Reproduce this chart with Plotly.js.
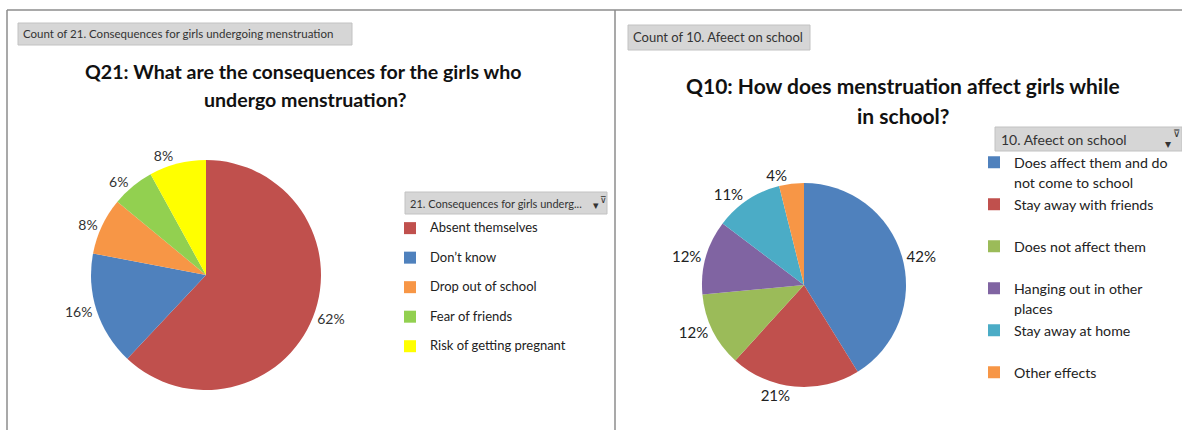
<!DOCTYPE html>
<html><head><meta charset="utf-8">
<script src="https://cdn.plot.ly/plotly-3.0.1.min.js"></script>
<style>html,body{margin:0;padding:0;background:#fff;overflow:hidden}</style>
</head><body><div id="chart" style="width:1182px;height:430px"></div>
<script>
// ---- data ----
const q21Labels = ["Absent themselves", "Don’t know", "Drop out of school", "Fear of friends", "Risk of getting pregnant"];
const q21Values = [62, 16, 8, 6, 8];
const q21Colors = ["#C0504D", "#4F81BD", "#F79646", "#92D050", "#FFFF00"];

const q10Labels = ["Does affect them and do not come to school", "Stay away with friends", "Does not affect them", "Hanging out in other places", "Stay away at home", "Other effects"];
const q10LegendLines = [["Does affect them and do", "not come to school"], ["Stay away with friends"], ["Does not affect them"], ["Hanging out in other", "places"], ["Stay away at home"], ["Other effects"]];
const q10Values = [42, 21, 12, 12, 11, 4];
const q10Colors = ["#4F81BD", "#C0504D", "#9BBB59", "#8064A2", "#4BACC6", "#F79646"];

const q21Title = ["Q21: What are the consequences for the girls who", "undergo menstruation?"];
const q10Title = ["Q10: How does menstruation affect girls while", "in school?"];
const q21Field = "Count of 21. Consequences for girls undergoing menstruation";
const q10Field = "Count of 10. Afeect on school";
const q21LegendHead = "21. Consequences for girls underg...";
const q10LegendHead = "10. Afeect on school";

// ---- helpers ----
const W = 1182, H = 430;
const px = x => x / W;
const py = y => 1 - y / H;
const FONT = "Lato, 'Open Sans', sans-serif";

// legend labels: two text lines per entry (second may be blank) so rows get the reference spacing
const q21Legend = q21Labels.map(l => "<span style='font-size:13px'>" + l + "</span><br>&nbsp;");
const q10Legend = q10LegendLines.map(ls => ls.map(s => "<span style='font-size:14.2px'>" + s + "</span>").join("<br>") + (ls.length === 1 ? "<br>&nbsp;" : ""));

const traces = [
  {
    type: "pie", labels: q21Legend, values: q21Values, sort: false, direction: "clockwise", rotation: 0,
    marker: {colors: q21Colors, line: {width: 0}},
    textposition: "outside", texttemplate: "%{value}%",
    textfont: {family: FONT, size: 14, color: "#333"},
    domain: {x: [px(91), px(321)], y: [py(390), py(160)]},
    legend: "legend", hoverinfo: "none"
  },
  {
    type: "pie", labels: q10Legend, values: q10Values, sort: false, direction: "clockwise", rotation: 0,
    marker: {colors: q10Colors, line: {width: 0}},
    textposition: "outside", texttemplate: "%{value}%",
    textfont: {family: FONT, size: 15, color: "#222"},
    domain: {x: [px(702), px(906)], y: [py(387), py(183)]},
    legend: "legend2", hoverinfo: "none"
  }
];

const grey = "#8c8c8c";
const shapes = [
  {type: "line", xref: "paper", yref: "paper", x0: px(7), x1: px(1182), y0: py(10), y1: py(10), line: {color: grey, width: 1.5}},
  {type: "line", xref: "paper", yref: "paper", x0: px(7), x1: px(7), y0: py(10), y1: py(430), line: {color: grey, width: 1.5}},
  {type: "line", xref: "paper", yref: "paper", x0: px(615), x1: px(615), y0: py(10), y1: py(430), line: {color: grey, width: 1.5}},
  // field buttons
  {type: "rect", xref: "paper", yref: "paper", x0: px(18), x1: px(352), y0: py(45), y1: py(23), fillcolor: "#d6d6d6", line: {color: "#c2c2c2", width: 1}},
  {type: "rect", xref: "paper", yref: "paper", x0: px(628), x1: px(810), y0: py(50), y1: py(25), fillcolor: "#d6d6d6", line: {color: "#c2c2c2", width: 1}},
  {type: "rect", xref: "paper", yref: "paper", x0: px(405), x1: px(607), y0: py(214), y1: py(192), fillcolor: "#d6d6d6", line: {color: "#c2c2c2", width: 1}},
  {type: "rect", xref: "paper", yref: "paper", x0: px(995), x1: px(1182), y0: py(151), y1: py(127), fillcolor: "#d6d6d6", line: {color: "#c2c2c2", width: 1}}
];

function ann(text, x, y, size, opts) {
  return Object.assign({xref: "paper", yref: "paper", x: px(x), y: py(y), text: text, showarrow: false,
    xanchor: "left", yanchor: "middle", font: {family: FONT, size: size, color: "#333"}}, opts || {});
}
const annotations = [
  ann(q21Field, 21, 34, 11.5),
  ann(q10Field, 631, 37, 13),
  ann(q21LegendHead, 408, 203, 11),
  ann("▾", 591, 205, 11),
  ann("⊽", 598, 199, 9),
  ann(q10LegendHead, 999, 139, 14),
  ann("▾", 1163, 143, 12),
  ann("⊽", 1171, 133, 10),
  ann("<b>" + q21Title[0] + "</b>", 304, 72, 19.6, {xanchor: "center", font: {family: FONT, size: 19.6, color: "#111"}}),
  ann("<b>" + q21Title[1] + "</b>", 305, 100, 19.6, {xanchor: "center", font: {family: FONT, size: 19.6, color: "#111"}}),
  ann("<b>" + q10Title[0] + "</b>", 903, 85, 21, {xanchor: "center", font: {family: FONT, size: 21, color: "#111"}}),
  ann("<b>" + q10Title[1] + "</b>", 903, 115, 21, {xanchor: "center", font: {family: FONT, size: 21, color: "#111"}})
];

const layout = {
  width: W, height: H,
  margin: {l: 0, r: 0, t: 0, b: 0, autoexpand: false},
  paper_bgcolor: "#ffffff", plot_bgcolor: "#ffffff",
  showlegend: true,
  legend: {x: px(390), y: py(215), xanchor: "left", yanchor: "top", valign: "top", traceorder: "normal",
    font: {family: FONT, size: 10.2, color: "#222"}, bgcolor: "rgba(0,0,0,0)", borderwidth: 0},
  legend2: {x: px(974), y: py(146), xanchor: "left", yanchor: "top", valign: "top", traceorder: "normal",
    font: {family: FONT, size: 15, color: "#222"}, bgcolor: "rgba(0,0,0,0)", borderwidth: 0},
  shapes: shapes,
  annotations: annotations
};

Plotly.newPlot("chart", traces, layout, {displayModeBar: false, staticPlot: true});
</script>
</body></html>
